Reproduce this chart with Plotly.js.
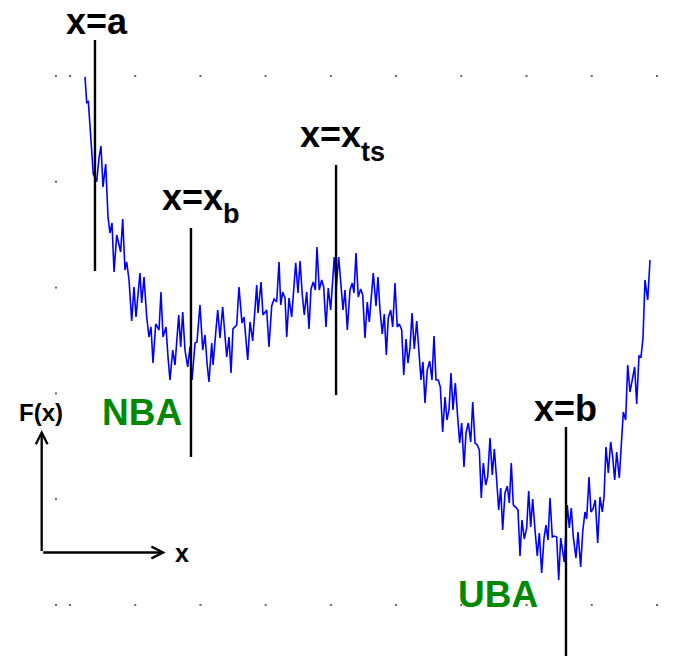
<!DOCTYPE html>
<html>
<head>
<meta charset="utf-8">
<script src="https://cdn.plot.ly/plotly-3.0.1.min.js"></script>
<style>html,body{margin:0;padding:0;background:#fff;}#chart{width:673px;height:656px;}</style>
</head>
<body>
<div id="chart"></div>
<script>
// Reaction coordinate (grid units) and free energy F(x) (grid units)
const xVals = [
0.230,0.256,0.281,0.357,0.409,0.445,0.475,0.506,0.547,0.583,
0.613,0.644,0.675,0.716,0.777,0.808,0.843,0.869,0.905,0.946,
0.981,1.012,1.073,1.099,1.135,1.176,1.211,1.242,1.273,1.314,
1.365,1.395,1.426,1.472,1.503,1.533,1.575,1.610,1.667,1.697,
1.728,1.763,1.805,1.840,1.871,1.917,1.947,1.993,2.035,2.070,
2.101,2.131,2.173,2.193,2.234,2.265,2.300,2.341,2.403,2.438,
2.469,2.499,2.556,2.591,2.637,2.668,2.725,2.760,2.801,2.863,
2.883,2.929,2.959,3.016,3.051,3.093,3.128,3.169,3.205,3.231,
3.261,3.297,3.323,3.358,3.399,3.461,3.496,3.527,3.562,3.592,
3.629,3.665,3.695,3.730,3.761,3.787,3.822,3.859,3.890,3.925,
3.960,3.997,4.052,4.083,4.120,4.155,4.186,4.217,4.252,4.293,
4.328,4.354,4.385,4.420,4.457,4.488,4.523,4.558,4.589,4.650,
4.692,4.722,4.753,4.788,4.819,4.850,4.880,4.917,4.948,4.983,
5.018,5.049,5.086,5.117,5.152,5.182,5.213,5.244,5.279,5.316,
5.351,5.382,5.412,5.443,5.478,5.515,5.550,5.581,5.612,5.647,
5.678,5.714,5.750,5.780,5.811,5.842,5.872,5.908,5.944,5.975,
6.006,6.041,6.072,6.107,6.144,6.175,6.210,6.245,6.276,6.306,
6.337,6.374,6.404,6.440,6.475,6.506,6.542,6.573,6.604,6.634,
6.670,6.705,6.736,6.766,6.797,6.834,6.869,6.900,6.930,6.966,
7.002,7.033,7.064,7.094,7.130,7.165,7.196,7.232,7.268,7.298,
7.329,7.360,7.395,7.426,7.462,7.493,7.524,7.559,7.579,7.625,
7.656,7.686,7.717,7.758,7.789,7.830,7.861,7.896,7.922,7.958,
7.988,8.019,8.054,8.091,8.126,8.162,8.188,8.218,8.254,8.290,
8.321,8.352,8.382,8.422,8.453,8.484,8.520,8.551,8.586,8.628,
8.658,8.689,8.724,8.755,8.786,8.816,8.858,8.893
];
const fVals = [
4.991,4.748,4.757,4.074,4.001,4.225,4.338,3.951,4.168,3.667,
3.516,3.611,3.147,3.497,3.336,3.648,3.166,3.242,3.072,2.684,
3.006,2.722,3.138,2.854,3.100,2.722,2.533,2.628,2.287,2.656,
2.599,2.958,2.533,2.628,2.344,2.127,2.410,2.268,2.741,2.439,
2.769,2.410,2.250,2.439,2.127,2.476,2.486,2.836,2.410,2.552,
2.287,2.108,2.476,2.268,2.571,2.788,2.524,2.817,2.344,2.533,
2.193,2.609,2.647,3.006,2.665,2.722,2.316,2.675,2.495,3.025,
2.760,3.053,2.741,2.788,2.439,2.826,2.892,2.864,3.242,2.836,
2.958,2.902,2.533,2.902,2.722,3.233,2.949,3.251,2.930,2.741,
2.958,2.609,2.987,3.053,2.977,3.384,2.977,3.072,3.006,2.628,
2.996,2.788,3.289,3.006,3.289,2.977,2.788,2.977,2.599,2.977,
3.043,2.949,3.327,2.911,2.987,2.930,2.524,2.864,2.675,3.138,
2.826,3.100,2.788,2.561,2.750,2.363,2.713,2.788,2.628,3.043,
2.628,2.656,2.599,2.174,2.514,2.287,2.429,2.760,2.420,2.684,
2.344,2.127,2.297,1.909,2.221,2.306,2.127,2.543,2.127,2.127,
2.060,1.635,1.966,1.749,1.843,2.193,1.843,2.098,1.777,1.531,
1.720,1.304,1.626,1.720,1.541,1.919,1.531,1.512,1.465,1.011,
1.342,1.134,1.210,1.578,1.229,1.474,1.181,0.898,1.106,0.709,
1.059,1.125,0.964,1.342,0.945,0.926,0.898,0.463,0.803,0.624,
0.728,1.078,0.737,1.002,0.709,0.463,0.681,0.302,0.633,0.756,
0.614,1.011,0.643,0.652,0.643,0.236,0.633,0.491,0.406,0.945,
0.728,0.917,0.643,0.444,0.690,0.359,0.690,0.879,0.813,1.210,
0.879,0.907,0.992,0.586,1.021,0.879,1.021,1.493,1.248,1.541,
1.399,1.181,1.446,1.200,1.531,1.824,1.749,2.268,2.013,2.155,
2.250,1.900,2.353,2.344,2.524,3.072,2.883,3.261
];

// Vertical marker lines: x = a, x_b, x_ts, b
const markerX = [0.383, 1.855, 4.079, 7.605];
const markerTop = [5.340, 3.563, 4.159, 1.682];
const markerBottom = [3.157, 1.399, 1.985, -0.5];

// Tick dot positions
const gridCols = [0,1,2,3,4,5,6,7,8,9];
const gridRows = [0,1,2,3,4,5];
const leftTickX = -0.215;

// Text labels
const labelText = ['x=a', 'x=x', 'ts', 'x=x', 'b', 'x=b', 'NBA', 'UBA', 'F(x)', 'x'];
const labelX    = [0.414, 3.994, 4.653, 1.874, 2.479, 7.605, 1.099, 6.555, -0.445, 1.717];
const labelY    = [5.515, 4.447, 4.277, 3.852, 3.691, 1.853, 1.815, 0.104, 1.821, 0.491];
const labelSize = [36, 36, 27, 36, 27, 36, 37, 37, 24, 25];
const labelColor= ['#000','#000','#000','#000','#000','#000','#008800','#008800','#000','#000'];

// Small axes arrows (corner, tips)
const arrowCorner = [-0.434, 0.496];
const arrowUpTip = [-0.434, 1.654];
const arrowRightTip = [1.467, 0.496];

const traces = [];
traces.push({x: xVals, y: fVals, mode: 'lines', line: {color: '#0000ff', width: 1.6}, hoverinfo: 'skip'});

const vx = [], vy = [];
markerX.forEach((mx, i) => { vx.push(mx, mx, null); vy.push(markerTop[i], markerBottom[i], null); });
traces.push({x: vx, y: vy, mode: 'lines', line: {color: '#000', width: 2.4}, hoverinfo: 'skip'});

const dx = [], dy = [];
gridCols.forEach(c => { dx.push(c, c); dy.push(gridRows[0], gridRows[gridRows.length-1]); });
gridRows.forEach(r => { dx.push(leftTickX); dy.push(r); });
traces.push({x: dx, y: dy, mode: 'markers', marker: {color: '#666', size: 2, symbol: 'square', line: {width: 0}}, hoverinfo: 'skip'});

const annotations = labelText.map((t, i) => ({
  x: labelX[i], y: labelY[i], xref: 'x', yref: 'y',
  text: '<b>' + t + '</b>', showarrow: false,
  xanchor: 'center', yanchor: 'middle',
  font: {family: 'Liberation Sans, Arial, sans-serif', size: labelSize[i], color: labelColor[i]}
}));
[arrowUpTip, arrowRightTip].forEach(tip => {
  annotations.push({
    x: tip[0], y: tip[1], ax: arrowCorner[0], ay: arrowCorner[1],
    xref: 'x', yref: 'y', axref: 'x', ayref: 'y',
    text: '', showarrow: true, arrowhead: 5, arrowsize: 1.0, arrowwidth: 2.3, arrowcolor: '#000', standoff: 0
  });
});

const layout = {
  width: 673, height: 656,
  margin: {l: 0, r: 0, t: 0, b: 0, pad: 0},
  paper_bgcolor: '#fff', plot_bgcolor: '#fff',
  showlegend: false,
  xaxis: {range: [-1.0733, 9.2457], visible: false, showgrid: false, zeroline: false},
  yaxis: {range: [-0.482, 5.718], visible: false, showgrid: false, zeroline: false},
  annotations: annotations
};

Plotly.newPlot('chart', traces, layout, {displayModeBar: false, staticPlot: true});
</script>
</body>
</html>
